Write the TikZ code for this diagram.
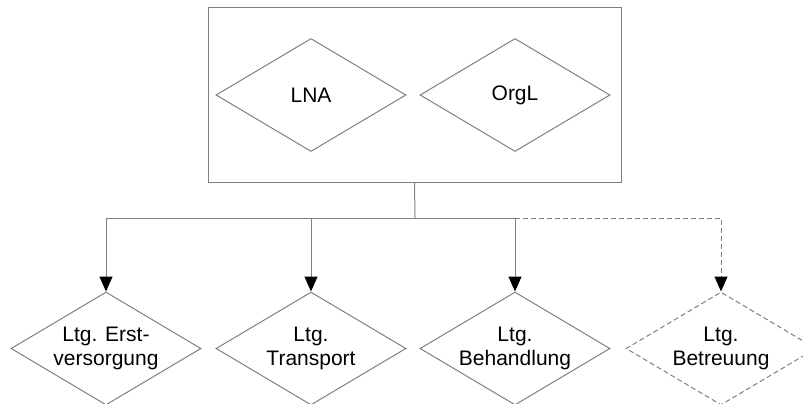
\documentclass[tikz,border=0pt]{standalone}
\usepackage{fontspec}
\setmainfont{Liberation Sans}
\usetikzlibrary{shapes.geometric,arrows.meta}
\begin{document}
\begin{tikzpicture}[x=1bp,y=-1bp,
  ln/.style={draw=gray, line width=1bp},
  txt/.style={align=center, font=\fontsize{21bp}{24bp}\selectfont, text=black, inner sep=0pt},
  dia/.style={ln, diamond, inner sep=0pt, minimum width=190bp, minimum height=113bp},
  arr/.style={ln, -{Triangle[width=13bp,length=15bp,color=black]}},
  dsh/.style={dash pattern=on 5bp off 3bp}]
\clip (0,0) rectangle (803,403);
\fill[white] (0,0) rectangle (803,403);
\node[ln, minimum width=413bp, minimum height=175bp, inner sep=0pt] (box) at (414.5,94.5) {};
\node[dia, label={[txt]center:LNA}] (lna) at (311,95) {};
\node[dia, label={[txt]center:OrgL}] (orgl) at (515,95) {};
\coordinate (j) at (415,218);
\node[dia, label={[txt]center:Ltg. Erst-\\versorgung}] (d1) at (106,348.5) {};
\node[dia, label={[txt]center:Ltg.\\Transport}] (d2) at (311,348.5) {};
\node[dia, label={[txt]center:Ltg.\\Behandlung}] (d3) at (515,348.5) {};
\node[dia, dsh, label={[txt]center:Ltg.\\Betreuung}] (d4) at (721,348.5) {};
\coordinate (k) at (d3.north |- j);
\draw[ln] (box.south) -- (j);
\draw[arr] (j) -| (d1.north);
\draw[arr] (j) -| (d2.north);
\draw[arr] (j) -| (d3.north);
\draw[arr, dsh] (k) -| (d4.north);
\end{tikzpicture}
\end{document}
